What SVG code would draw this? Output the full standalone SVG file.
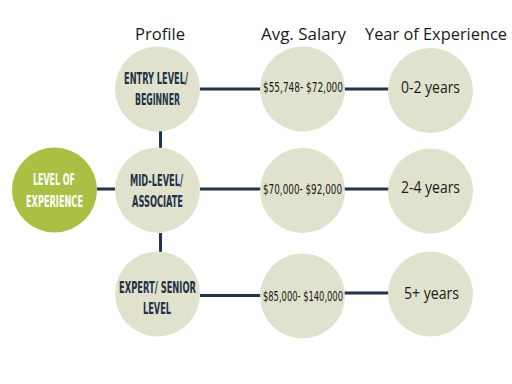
<svg xmlns="http://www.w3.org/2000/svg" width="512" height="384" viewBox="0 0 512 384">
<style>
.c{fill:#e0e2cd}
.g{fill:#a9c043}
.ln{stroke:#1e3550;stroke-width:3;fill:none}
.h{font-family:"Open Sans","Noto Sans",sans-serif;font-size:17px;fill:#1a1a1a;text-anchor:middle}
.p{font-family:"DejaVu Sans Condensed","DejaVu Sans",sans-serif;font-size:16px;fill:#1f3347;text-anchor:middle;font-weight:bold}
.w{fill:#ffffff}
.s{font-family:"DejaVu Sans Condensed","DejaVu Sans",sans-serif;font-size:14.5px;fill:#1a1a1a;text-anchor:middle}
.y{font-family:"Open Sans","Noto Sans",sans-serif;font-size:16px;fill:#1a1a1a;text-anchor:middle}
</style>
<rect width="512" height="384" fill="#ffffff"/>
<g id="headers">
<text class="h" x="160" y="40" textLength="50" lengthAdjust="spacingAndGlyphs">Profile</text>
<text class="h" x="303.5" y="40" textLength="85" lengthAdjust="spacingAndGlyphs">Avg. Salary</text>
<text class="h" x="436" y="40" textLength="142" lengthAdjust="spacingAndGlyphs">Year of Experience</text>
</g>
<g id="connectors">
<line class="ln" x1="97" y1="189" x2="115" y2="189"/>
<line class="ln" x1="160.5" y1="131" x2="160.5" y2="148"/>
<line class="ln" x1="160.5" y1="233" x2="160.5" y2="252"/>
<line class="ln" x1="200" y1="89" x2="261" y2="89"/>
<line class="ln" x1="200" y1="189" x2="261" y2="189"/>
<line class="ln" x1="200" y1="295.5" x2="261" y2="295.5"/>
<line class="ln" x1="344" y1="89" x2="389" y2="89"/>
<line class="ln" x1="344" y1="189" x2="389" y2="189"/>
<line class="ln" x1="344" y1="293" x2="389" y2="293"/>
</g>
<g id="level-of-experience">
<circle class="g" cx="54.5" cy="190" r="42.5"/>
<text class="p w" x="54" y="185" textLength="42" lengthAdjust="spacingAndGlyphs">LEVEL OF</text>
<text class="p w" x="54.5" y="206.5" textLength="57" lengthAdjust="spacingAndGlyphs">EXPERIENCE</text>
</g>
<g id="entry">
<circle class="c" cx="157.5" cy="89" r="42.5"/>
<text class="p" x="156" y="84" textLength="64" lengthAdjust="spacingAndGlyphs">ENTRY LEVEL/</text>
<text class="p" x="157.5" y="105" textLength="45" lengthAdjust="spacingAndGlyphs">BEGINNER</text>
</g>
<g id="mid">
<circle class="c" cx="157.5" cy="190" r="42.5"/>
<text class="p" x="156.5" y="185.5" textLength="53" lengthAdjust="spacingAndGlyphs">MID-LEVEL/</text>
<text class="p" x="157.5" y="206.5" textLength="51" lengthAdjust="spacingAndGlyphs">ASSOCIATE</text>
</g>
<g id="expert">
<circle class="c" cx="157.5" cy="294" r="42.5"/>
<text class="p" x="157.5" y="293" textLength="77" lengthAdjust="spacingAndGlyphs">EXPERT/ SENIOR</text>
<text class="p" x="157" y="313.5" textLength="28" lengthAdjust="spacingAndGlyphs">LEVEL</text>
</g>
<g id="salary-1">
<circle class="c" cx="302.5" cy="89" r="42.5"/>
<text class="s" x="303" y="91.5" textLength="80" lengthAdjust="spacingAndGlyphs">$55,748- $72,000</text>
</g>
<g id="salary-2">
<circle class="c" cx="302.5" cy="190.5" r="42.5"/>
<text class="s" x="302.5" y="193.5" textLength="79" lengthAdjust="spacingAndGlyphs">$70,000- $92,000</text>
</g>
<g id="salary-3">
<circle class="c" cx="302.5" cy="296" r="42.5"/>
<text class="s" x="303" y="301" textLength="80" lengthAdjust="spacingAndGlyphs">$85,000- $140,000</text>
</g>
<g id="years-1">
<circle class="c" cx="430.5" cy="90.5" r="42.5"/>
<text class="y" x="430.5" y="92.5" textLength="59" lengthAdjust="spacingAndGlyphs">0-2 years</text>
</g>
<g id="years-2">
<circle class="c" cx="430.5" cy="191" r="42.5"/>
<text class="y" x="430.5" y="193" textLength="59" lengthAdjust="spacingAndGlyphs">2-4 years</text>
</g>
<g id="years-3">
<circle class="c" cx="430.5" cy="294" r="42.5"/>
<text class="y" x="431.5" y="298.5" textLength="55" lengthAdjust="spacingAndGlyphs">5+ years</text>
</g>
</svg>
